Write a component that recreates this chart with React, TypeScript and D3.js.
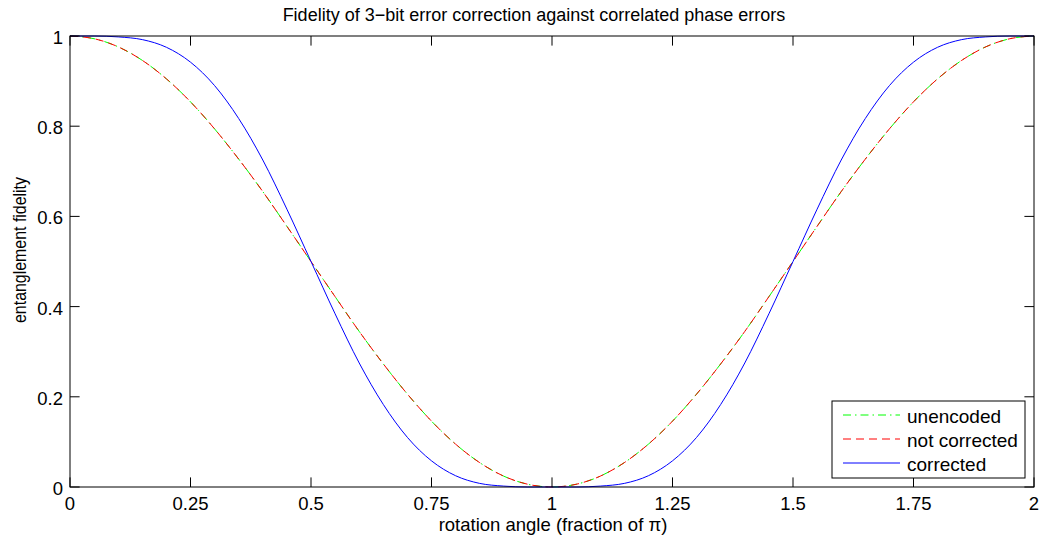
import React from "react";
import * as d3 from "d3";

const angles = [
  0, 0.05, 0.1, 0.15, 0.2, 0.25, 0.3, 0.35, 0.4, 0.45, 0.5, 0.55, 0.6, 0.65, 0.7, 0.75, 0.8, 0.85, 0.9, 0.95,
  1, 1.05, 1.1, 1.15, 1.2, 1.25, 1.3, 1.35, 1.4, 1.45, 1.5, 1.55, 1.6, 1.65, 1.7, 1.75, 1.8, 1.85, 1.9, 1.95, 2,
];
const unencoded = [
  1, 0.994, 0.976, 0.946, 0.905, 0.854, 0.794, 0.727, 0.655, 0.578, 0.5, 0.422, 0.345, 0.273, 0.206, 0.146,
  0.095, 0.054, 0.024, 0.006, 0, 0.006, 0.024, 0.054, 0.095, 0.146, 0.206, 0.273, 0.345, 0.422, 0.5, 0.578,
  0.655, 0.727, 0.794, 0.854, 0.905, 0.946, 0.976, 0.994, 1,
];
const notCorrected = [
  1, 0.994, 0.976, 0.946, 0.905, 0.854, 0.794, 0.727, 0.655, 0.578, 0.5, 0.422, 0.345, 0.273, 0.206, 0.146,
  0.095, 0.054, 0.024, 0.006, 0, 0.006, 0.024, 0.054, 0.095, 0.146, 0.206, 0.273, 0.345, 0.422, 0.5, 0.578,
  0.655, 0.727, 0.794, 0.854, 0.905, 0.946, 0.976, 0.994, 1,
];
const corrected = [
  1, 1.0, 0.998, 0.992, 0.975, 0.942, 0.89, 0.817, 0.725, 0.616, 0.5, 0.384, 0.275, 0.183, 0.11, 0.058, 0.025,
  0.008, 0.002, 0.0, 0, 0.0, 0.002, 0.008, 0.025, 0.058, 0.11, 0.183, 0.275, 0.384, 0.5, 0.616, 0.725, 0.817,
  0.89, 0.942, 0.975, 0.992, 0.998, 1.0, 1,
];
const xTicks = [0, 0.25, 0.5, 0.75, 1, 1.25, 1.5, 1.75, 2];
const yTicks = [0, 0.2, 0.4, 0.6, 0.8, 1];
const title = "Fidelity of 3\u2212bit error correction against correlated phase errors";
const xLabel = "rotation angle (fraction of \u03c0)";
const yLabel = "entanglement fidelity";

const series = [
  { name: "unencoded", values: unencoded, color: "#00ff00", dash: "8,4,1.5,4" },
  { name: "not corrected", values: notCorrected, color: "#ff0000", dash: "8,5" },
  { name: "corrected", values: corrected, color: "#0000ff", dash: "" },
];

export default function App() {
  const W = 1042, H = 542;
  const L = 70, R = 1034, T = 36, B = 487;
  const x = d3.scaleLinear().domain([0, 2]).range([L, R]);
  const y = d3.scaleLinear().domain([0, 1]).range([B, T]);
  const tick = 9.6;
  const font = "'Liberation Sans', Arial, Helvetica, sans-serif";
  const line = (vals: number[]) =>
    d3
      .line<number>()
      .x((_, i) => x(angles[i]))
      .y((d) => y(d))
      .curve(d3.curveMonotoneX)(vals) || "";

  const lgX = 832, lgY = 401, lgW = 193, lgH = 77;
  return (
    <svg width={W} height={H} style={{ position: "absolute", left: 0, top: 0, background: "#fff" }} fontFamily={font}>
      <rect x={0} y={0} width={W} height={H} fill="#fff" />
      {series.map((s) => (
        <path key={s.name} d={line(s.values)} fill="none" stroke={s.color} strokeWidth={1} strokeDasharray={s.dash || undefined} />
      ))}
      <rect x={L} y={T} width={R - L} height={B - T} fill="none" stroke="#000" strokeWidth={1} />
      {xTicks.map((t) => (
        <g key={"x" + t}>
          <line x1={x(t)} x2={x(t)} y1={B} y2={B - tick} stroke="#000" />
          <line x1={x(t)} x2={x(t)} y1={T} y2={T + tick} stroke="#000" />
          <text x={x(t)} y={510} fontSize={18.5} textAnchor="middle" fill="#000">
            {String(t)}
          </text>
        </g>
      ))}
      {yTicks.map((t) => (
        <g key={"y" + t}>
          <line x1={L} x2={L + tick} y1={y(t)} y2={y(t)} stroke="#000" />
          <line x1={R} x2={R - tick} y1={y(t)} y2={y(t)} stroke="#000" />
          <text x={L - 7} y={y(t) + 8} fontSize={18.5} textAnchor="end" fill="#000">
            {String(t)}
          </text>
        </g>
      ))}
      <text x={534} y={21} fontSize={18} textAnchor="middle" fill="#000">
        {title}
      </text>
      <text x={553} y={531} fontSize={18.5} textAnchor="middle" fill="#000">
        {xLabel}
      </text>
      <text
        transform={`translate(26,250) rotate(-90)`}
        fontSize={18}
        textAnchor="middle"
        fill="#000"
        textLength={146}
        lengthAdjust="spacingAndGlyphs"
      >
        {yLabel}
      </text>
      <rect x={lgX} y={lgY} width={lgW} height={lgH} fill="#fff" stroke="#000" strokeWidth={1} />
      {series.map((s, i) => {
        const cy = lgY + 14 + i * 24;
        return (
          <g key={"lg" + s.name}>
            <line x1={843} x2={900} y1={cy} y2={cy} stroke={s.color} strokeDasharray={s.dash || undefined} />
            <text x={907} y={cy + 8} fontSize={19} fill="#000">
              {s.name}
            </text>
          </g>
        );
      })}
    </svg>
  );
}
